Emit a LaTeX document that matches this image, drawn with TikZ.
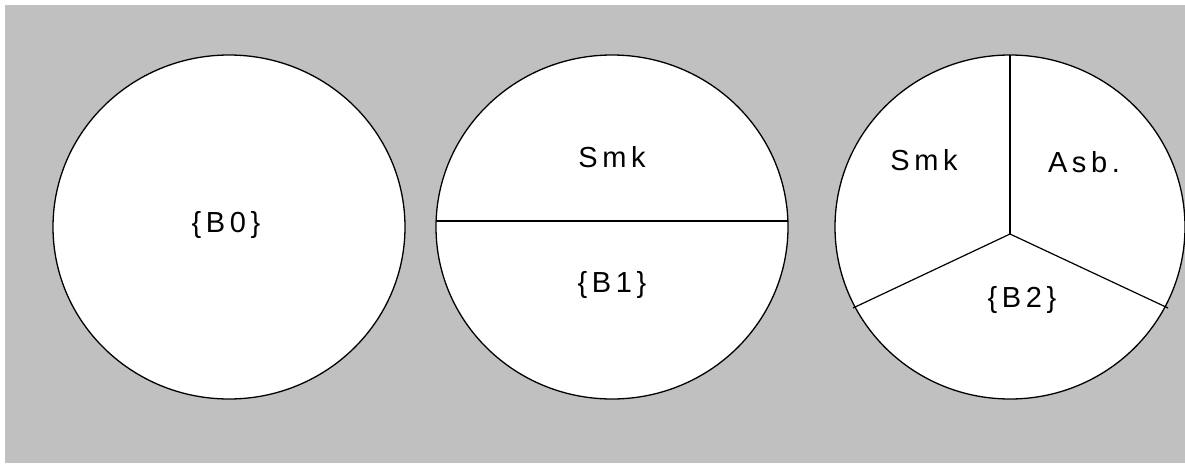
\documentclass[tikz,border=0pt]{standalone}
\usepackage{fontspec}
\setmainfont{Liberation Sans}[LetterSpace=16]
\definecolor{bggray}{HTML}{C0C0C0}
\tikzset{
  disc/.style={draw=black, fill=white, line width=1.3pt},
  split/.style={draw=black, line width=1.2pt},
  lbl/.style={font=\fontsize{29}{34}\selectfont, inner sep=0pt}
}
\begin{document}
\begin{tikzpicture}[x=1pt,y=-1pt]
\useasboundingbox (0,0) rectangle (1185,463);
\fill[bggray] (5,5) rectangle (1185,463);
% circle 1
\coordinate (c1) at (229,227);
\draw[disc] (c1) ellipse [x radius=176, y radius=172];
\node[lbl] (b0) at (226,225) {\{B0\}};
% circle 2
\coordinate (c2) at (612,227);
\draw[disc] (c2) ellipse [x radius=176, y radius=172];
\coordinate (h1) at (436.5,221);
\coordinate (h2) at (787.5,221);
\draw[split] (h1) -- (h2);
\node[lbl] (s2) at (612,157) {Smk};
\node[lbl] (b1) at (612,285) {\{B1\}};
% circle 3
\coordinate (c3) at (1010,227);
\draw[disc] (c3) ellipse [x radius=175, y radius=172];
\coordinate (y0) at (1010,234);
\coordinate (yt) at (1010,55);
\coordinate (yl) at (853,308);
\coordinate (yr) at (1168,308);
\draw[split] (y0) -- (yt);
\draw[split] (y0) -- (yl);
\draw[split] (y0) -- (yr);
\node[lbl] (s3) at (924,160) {Smk};
\node[lbl] (a3) at (1084,162) {Asb.};
\node[lbl] (b2) at (1022,300) {\{B2\}};
\end{tikzpicture}
\end{document}
